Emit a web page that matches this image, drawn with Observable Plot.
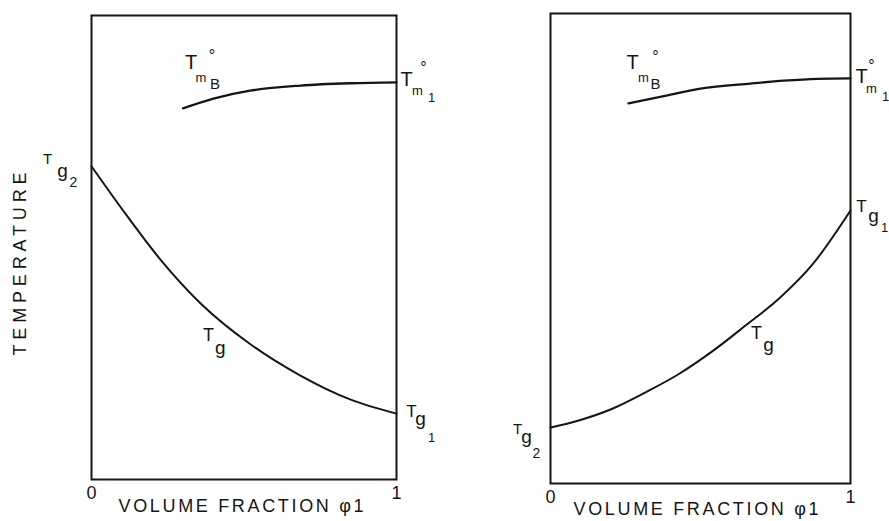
<!DOCTYPE html>
<html><head><meta charset="utf-8">
<script src="https://cdn.jsdelivr.net/npm/d3@7"></script>
<script src="https://cdn.jsdelivr.net/npm/@observablehq/plot@0.6"></script>
<style>
body{margin:0;background:#fff;}
#wrap{display:flex;width:889px;height:521px;}
svg{display:block}
</style></head><body><div id="wrap"></div>
<script>
// ---- data ----
const xTicks = [0, 1];
const xLabel = "VOLUME FRACTION φ1";
const yLabel = "TEMPERATURE";
// left panel
const phiTmLeft = [0.30, 0.40, 0.52, 0.685, 0.85, 1.0];
const TmLeft    = [80.0, 82.1, 83.8, 84.9, 85.4, 85.6];
const phiTgLeft = [0, 0.1, 0.226, 0.357, 0.52, 0.685, 0.85, 1];
const TgLeft    = [67.5, 58.3, 47.4, 38.0, 29.2, 22.4, 17.2, 14.2];
// right panel
const phiTmRight = [0.26, 0.39, 0.5, 0.667, 0.777, 0.89, 1];
const TmRight    = [80.9, 82.6, 84.0, 85.1, 85.7, 86.1, 86.2];
const phiTgRight = [0, 0.094, 0.206, 0.317, 0.428, 0.539, 0.65, 0.761, 0.872, 1];
const TgRight    = [11.9, 13.4, 15.9, 19.4, 23.3, 28.1, 33.6, 39.3, 46.5, 58.1];
// curve label pieces
const lblTmB = ["T", "m", "B", "°"];
const lblTm1 = ["T", "m", "1", "°"];
const lblTg1 = ["T", "g", "1"];
const lblTg2 = ["T", "g", "2"];
const lblTg  = ["T", "g"];

// ---- helpers ----
const ink = "#151515";
const toRows = (xs, ys) => xs.map((x, i) => ({x, y: ys[i]}));

function label(anchor, texts, offs) {
  return texts.map((t, i) => Plot.text([anchor], {
    x: "x", y: "y", text: () => t,
    dx: offs[i][0], dy: offs[i][1], fontSize: offs[i][2], fill: ink
  }));
}

function panel(o) {
  const tm = toRows(o.phiTm, o.Tm);
  const tg = toRows(o.phiTg, o.Tg);
  const marks = [
    Plot.frame({stroke: ink, strokeWidth: 2}),
    Plot.line(tm, {x: "x", y: "y", stroke: ink, strokeWidth: 2.3, curve: "monotone-x"}),
    Plot.line(tg, {x: "x", y: "y", stroke: ink, strokeWidth: 2, curve: "monotone-x"}),
    Plot.axisX(xTicks, {tickSize: 0, tickPadding: 7, fontSize: 18, label: null, tickFormat: d => String(d)}),
    Plot.text([xLabel], {frameAnchor: "bottom", dy: o.xlabDy, dx: o.xlabDx, textAnchor: "start", text: d => d, fontSize: 18, fill: ink}),
    ...label(tm[0], lblTmB, o.offTmB),
    ...label(tm[tm.length - 1], lblTm1, o.offTm1),
    ...label(tg[0], lblTg2, o.offTg2),
    ...label(tg[tg.length - 1], lblTg1, o.offTg1),
    ...label(tg[o.tgMidIdx], lblTg, o.offTg)
  ];
  if (o.yLabel) marks.push(Plot.text([yLabel], {frameAnchor: "left", dx: -71, dy: 108, rotate: -90, textAnchor: "start", text: d => d, fontSize: 18, fill: ink}));
  return Plot.plot({
    width: o.width, height: 521,
    marginLeft: o.ml, marginRight: o.mr, marginTop: o.mt, marginBottom: o.mb,
    x: {domain: [0, 1], axis: null},
    y: {domain: [0, 100], axis: null},
    style: {fontFamily: "'Liberation Sans', Arial, sans-serif", background: "#fff", color: ink, overflow: "visible"},
    marks
  });
}

const left = panel({
  width: 445, ml: 91, mr: 49, mt: 15, mb: 42,
  phiTm: phiTmLeft, Tm: TmLeft, phiTg: phiTgLeft, Tg: TgLeft,
  xlabDy: 32, xlabDx: -125.5, yLabel: true, tgMidIdx: 3,
  offTmB: [[8, -46, 20], [18, -30, 13], [32, -24, 15], [29, -52, 16]],
  offTm1: [[10, -3, 20], [21, 9, 13], [35, 16, 13], [27, -14, 16]],
  offTg2: [[-44, -7, 15], [-29, 5, 19], [-18, 16, 14]],
  offTg1: [[15, -2, 17], [24, 5, 19], [35, 24, 13]],
  offTg:  [[8, 32, 18], [20, 45, 19]]
});
const right = panel({
  width: 444, ml: 105, mr: 39, mt: 13, mb: 38,
  phiTm: phiTmRight, Tm: TmRight, phiTg: phiTgRight, Tg: TgRight,
  xlabDy: 31, xlabDx: -127, yLabel: false, tgMidIdx: 6,
  offTmB: [[4, -41, 20], [15, -25, 13], [27, -19, 15], [27, -46, 16]],
  offTm1: [[11, -2, 20], [21, 10, 13], [35, 18, 13], [21, -12, 16]],
  offTg2: [[-33, 2, 15], [-24, 9, 19], [-14, 26, 14]],
  offTg1: [[11, -4, 17], [23, 5, 19], [34, 17, 13]],
  offTg:  [[11, 8, 18], [23, 19, 19]]
});
const wrap = document.getElementById("wrap");
wrap.append(left, right);

// letter spacing of the typewritten axis titles
d3.selectAll("svg text").filter(function() { return this.textContent === xLabel; })
  .attr("textLength", 245).attr("lengthAdjust", "spacing");
d3.selectAll("svg text").filter(function() { return this.textContent === yLabel; })
  .attr("textLength", 183).attr("lengthAdjust", "spacing");
</script></body></html>
